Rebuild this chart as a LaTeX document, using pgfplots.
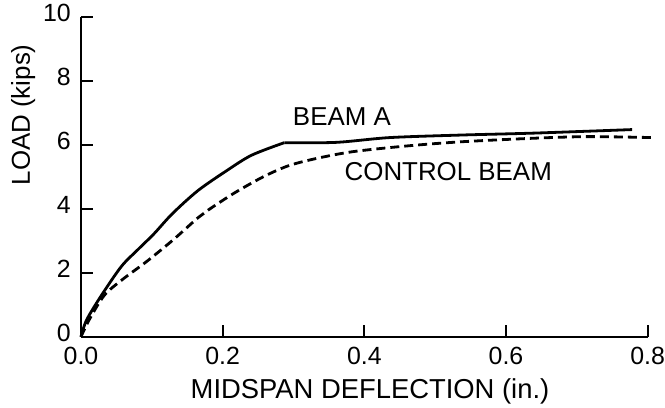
\documentclass[border=0pt]{standalone}
\usepackage{fontspec}
\setmainfont{Liberation Sans}
\usepackage{pgfplots}
\pgfplotsset{compat=1.18}
\begin{document}
\begin{tikzpicture}
\begin{axis}[
  scale only axis,
  width=567bp, height=320bp,
  xmin=0, xmax=0.8, ymin=0, ymax=10,
  axis lines=left,
  axis line style={-, line width=2.4bp},
  clip=false,
  tick align=inside,
  major tick length=12bp,
  tick style={line width=1.8bp, black},
  xtick={0,0.2,0.4,0.6,0.8},
  ytick={0,2,4,6,8,10},
  /pgf/number format/assume math mode=true,
  tick label style={font=\fontsize{25}{29}\selectfont, inner sep=0pt},
  xticklabel style={/pgf/number format/fixed, /pgf/number format/fixed zerofill, /pgf/number format/precision=1, yshift=-10bp},
  yticklabel style={xshift=-10bp, yshift=4bp},
  xlabel={MIDSPAN DEFLECTION (in.)},
  ylabel={LOAD (kips)},
  xlabel style={font=\fontsize{27.5}{32}\selectfont, at={(axis description cs:0.51,-0.172)}, anchor=center},
  ylabel style={font=\fontsize{26}{30}\selectfont, at={(axis description cs:-0.102,0.694)}, anchor=center},
]
\addplot[black, line width=2.8bp, smooth, tension=0.5] coordinates {
(0,0) (0.008,0.53) (0.029,1.3) (0.057,2.2) (0.080,2.72) (0.103,3.22)
(0.129,3.85) (0.165,4.57) (0.206,5.2) (0.241,5.68) (0.287,6.07)
};
\addplot[black, line width=2.8bp, smooth, tension=0.5] coordinates {
(0.287,6.07) (0.36,6.08) (0.436,6.23) (0.538,6.31) (0.64,6.37) (0.778,6.48)
};
\addplot[black, line width=2.8bp, dash pattern=on 9bp off 5bp, smooth, tension=0.5] coordinates {
(0,0) (0.012,0.55) (0.033,1.3) (0.059,1.8) (0.093,2.36) (0.13,3.03)
(0.165,3.72) (0.18,3.97) (0.216,4.49) (0.257,5.0) (0.293,5.35)
(0.333,5.58) (0.384,5.79) (0.461,5.97) (0.538,6.1) (0.64,6.21)
(0.717,6.26) (0.806,6.23)
};
\node[anchor=west, font=\fontsize{26}{30}\selectfont, inner sep=0pt] at (axis cs:0.299,6.89) {BEAM A};
\node[anchor=west, font=\fontsize{26}{30}\selectfont, inner sep=0pt] at (axis cs:0.372,5.17) {CONTROL BEAM};
\path (rel axis cs:0,0) ++(-81bp,-70bp) coordinate (bl);
\path (rel axis cs:1,1) ++(17bp,17bp) coordinate (tr);
\end{axis}
\path (bl) rectangle (tr);
\end{tikzpicture}
\end{document}
